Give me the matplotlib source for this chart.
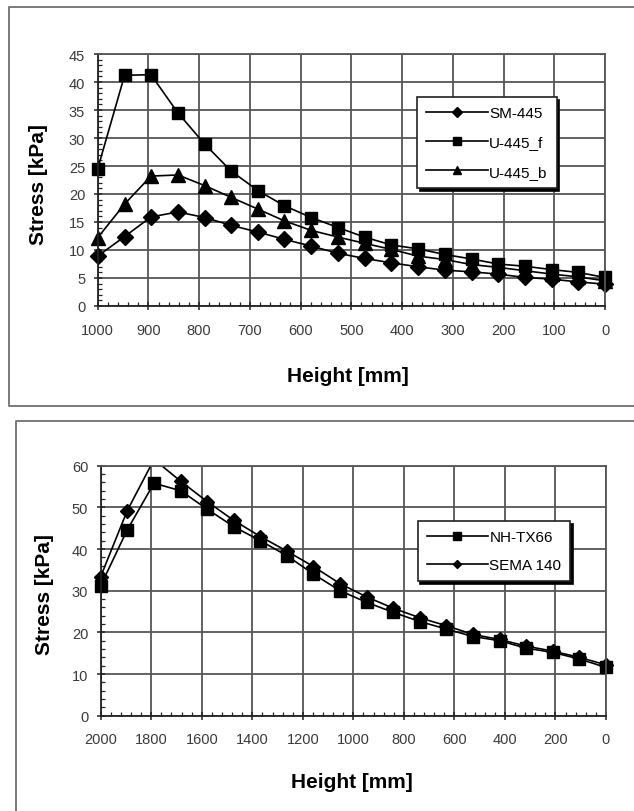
import matplotlib
matplotlib.use('Agg')
import matplotlib.pyplot as plt
from matplotlib.lines import Line2D
from matplotlib.patches import Rectangle
from matplotlib.ticker import MultipleLocator

plt.rcParams['font.family'] = ['Liberation Sans', 'DejaVu Sans']

# top chart: heights in mm (20 measuring points)
h1 = [1000, 947, 895, 842, 789, 737, 684, 632, 579, 526,
      474, 421, 368, 316, 263, 211, 158, 105, 53, 0]
sm445 = [8.9, 12.4, 15.9, 16.8, 15.8, 14.4, 13.2, 11.9, 10.7, 9.4,
         8.5, 7.7, 7.0, 6.4, 6.1, 5.7, 5.1, 4.8, 4.3, 3.9]
u445_f = [24.5, 41.2, 41.3, 34.5, 28.9, 24.1, 20.6, 17.9, 15.8, 14.0,
          12.3, 10.9, 10.2, 9.2, 8.4, 7.5, 7.1, 6.5, 6.0, 5.1]
u445_b = [12.2, 18.2, 23.2, 23.4, 21.5, 19.4, 17.3, 15.2, 13.5, 12.3,
          11.2, 10.1, 8.9, 8.3, 7.4, 6.9, 6.3, 5.7, 5.2, 4.5]

# bottom chart
h2 = [2000, 1895, 1789, 1684, 1579, 1474, 1368, 1263, 1158, 1053,
      947, 842, 737, 632, 526, 421, 316, 211, 105, 0]
nh_tx66 = [31.2, 44.6, 55.8, 54.0, 49.6, 45.4, 42.0, 38.4, 34.0, 30.0,
           27.2, 24.8, 22.6, 20.8, 19.0, 18.0, 16.2, 15.2, 13.6, 11.6]
sema140 = [33.4, 49.2, 61.5, 56.3, 51.4, 46.9, 43.0, 39.5, 35.8, 31.7,
           28.5, 25.8, 23.5, 21.6, 19.5, 18.3, 16.7, 15.5, 14.0, 12.2]

W, H = 634, 812
fig = plt.figure(figsize=(W / 100, H / 100), dpi=100)

# grey frames round each chart (in pixels)
def fl(xs, ys):
    fig.add_artist(Line2D([x / W for x in xs], [1 - y / H for y in ys],
                          color='#7a7a7a', lw=1.4, transform=fig.transFigure))

fl([634, 8.7, 8.7, 634], [8, 8, 407, 407])
fl([634, 16, 16], [421.7, 421.7, 812])

grid_c = '#555555'


def style(ax, xmax, xmaj, xmin, ymax, ymaj, ymin):
    ax.set_xlim(xmax, 0)
    ax.set_ylim(0, ymax)
    ax.xaxis.set_major_locator(MultipleLocator(xmaj))
    ax.xaxis.set_minor_locator(MultipleLocator(xmin))
    ax.yaxis.set_major_locator(MultipleLocator(ymaj))
    ax.yaxis.set_minor_locator(MultipleLocator(ymin))
    ax.grid(True, which='major', color=grid_c, lw=1.3)
    ax.set_axisbelow(True)
    for s in ['top', 'right']:
        ax.spines[s].set_color(grid_c)
        ax.spines[s].set_linewidth(1.3)
    for s in ['left', 'bottom']:
        ax.spines[s].set_color('#222222')
        ax.spines[s].set_linewidth(1.3)
    ax.tick_params(which='major', direction='inout', length=6, width=1.1,
                   color='#222222', labelsize=10.5, labelcolor='#3a3a3a')
    ax.tick_params(which='minor', direction='in', length=3, width=0.9,
                   color='#222222')
    ax.tick_params(axis='x', pad=9)
    ax.tick_params(axis='y', pad=6)


def legend(ax, x, y, spacing):
    ax.legend(loc='upper left', bbox_to_anchor=(x, y), fontsize=11,
              frameon=True, fancybox=False, edgecolor='#222222',
              framealpha=1, shadow={'color': 'black', 'alpha': 1},
              handlelength=4.0, handletextpad=0.1, labelspacing=spacing,
              borderpad=0.6, markerscale=0.6, borderaxespad=0)
    ax.get_legend().get_frame().set_linewidth(1.2)


def clip_sides(ax, lines):
    # markers may stick out left and right, but not above the plot
    box = Rectangle((-0.05, -0.05), 1.1, 1.05, transform=ax.transAxes,
                    facecolor='none', edgecolor='none')
    for ln in lines:
        ln.set_clip_box(None)
        ln.set_clip_path(box)


# top chart
ax1 = fig.add_axes([97.7 / W, 1 - 307 / H, 507.3 / W, 252 / H])
l1 = ax1.plot(h1, sm445, color='black', lw=1.2, marker='D', ms=8, label='SM-445')
l2 = ax1.plot(h1, u445_f, color='black', lw=1.2, marker='s', ms=9, label='U-445_f')
l3 = ax1.plot(h1, u445_b, color='black', lw=1.2, marker='^', ms=9.5, label='U-445_b')
clip_sides(ax1, l1 + l2 + l3)
style(ax1, 1000, 100, 20, 45, 5, 1)
legend(ax1, 0.63, 0.83, 1.0)

# bottom chart
ax2 = fig.add_axes([100.7 / W, 1 - 716.7 / H, 505.3 / W, 250 / H])
l4 = ax2.plot(h2, nh_tx66, color='black', lw=1.2, marker='s', ms=9, label='NH-TX66')
l5 = ax2.plot(h2, sema140, color='black', lw=1.2, marker='D', ms=7.5, label='SEMA 140')
clip_sides(ax2, l4 + l5)
style(ax2, 2000, 200, 40, 60, 10, 2)
legend(ax2, 0.627, 0.779, 0.9)

# axis titles
for xc, yc in [(348, 377), (352, 783)]:
    fig.text(xc / W, 1 - yc / H, 'Height [mm]', fontsize=15, fontweight='bold',
             ha='center', va='center')
for xc, yc in [(39, 185), (44, 595)]:
    fig.text(xc / W, 1 - yc / H, 'Stress [kPa]', fontsize=15, fontweight='bold',
             ha='center', va='center', rotation=90)

fig.savefig('out.png', dpi=100, facecolor='white')
